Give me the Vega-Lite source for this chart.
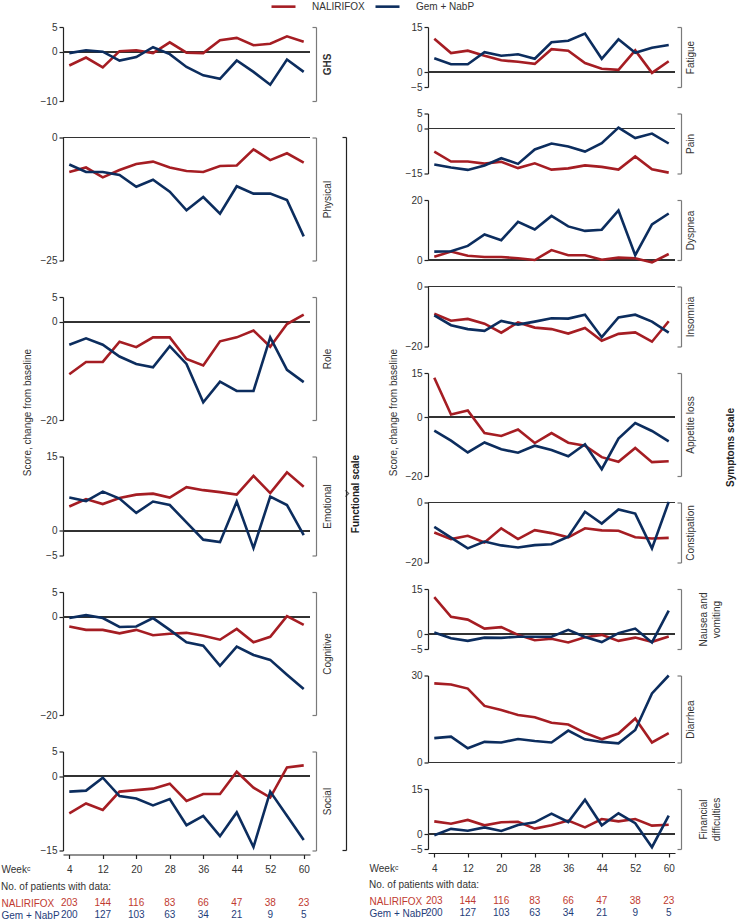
{
  "$schema": "https://vega.github.io/schema/vega-lite/v6.json",
  "background": "white",
  "padding": {"left": 1, "right": 1, "top": -7, "bottom": 0},
  "datasets": {
    "scores": [
      {"scale":"GHS","arm":"NALIRIFOX","week":4,"score":-2.8},{"scale":"GHS","arm":"NALIRIFOX","week":8,"score":-1.2},{"scale":"GHS","arm":"NALIRIFOX","week":12,"score":-3.2},{"scale":"GHS","arm":"NALIRIFOX","week":16,"score":0.1},{"scale":"GHS","arm":"NALIRIFOX","week":20,"score":0.3},{"scale":"GHS","arm":"NALIRIFOX","week":24,"score":-0.3},{"scale":"GHS","arm":"NALIRIFOX","week":28,"score":1.9},{"scale":"GHS","arm":"NALIRIFOX","week":32,"score":-0.2},{"scale":"GHS","arm":"NALIRIFOX","week":36,"score":-0.3},{"scale":"GHS","arm":"NALIRIFOX","week":40,"score":2.3},{"scale":"GHS","arm":"NALIRIFOX","week":44,"score":2.8},{"scale":"GHS","arm":"NALIRIFOX","week":48,"score":1.3},{"scale":"GHS","arm":"NALIRIFOX","week":52,"score":1.6},{"scale":"GHS","arm":"NALIRIFOX","week":56,"score":3.1},{"scale":"GHS","arm":"NALIRIFOX","week":60,"score":2.0},
      {"scale":"GHS","arm":"Gem + NabP","week":4,"score":-0.3},{"scale":"GHS","arm":"Gem + NabP","week":8,"score":0.3},{"scale":"GHS","arm":"Gem + NabP","week":12,"score":0},{"scale":"GHS","arm":"Gem + NabP","week":16,"score":-1.8},{"scale":"GHS","arm":"Gem + NabP","week":20,"score":-1.1},{"scale":"GHS","arm":"Gem + NabP","week":24,"score":0.9},{"scale":"GHS","arm":"Gem + NabP","week":28,"score":-0.5},{"scale":"GHS","arm":"Gem + NabP","week":32,"score":-3.1},{"scale":"GHS","arm":"Gem + NabP","week":36,"score":-4.8},{"scale":"GHS","arm":"Gem + NabP","week":40,"score":-5.5},{"scale":"GHS","arm":"Gem + NabP","week":44,"score":-1.8},{"scale":"GHS","arm":"Gem + NabP","week":48,"score":-4.1},{"scale":"GHS","arm":"Gem + NabP","week":52,"score":-6.7},{"scale":"GHS","arm":"Gem + NabP","week":56,"score":-1.6},{"scale":"GHS","arm":"Gem + NabP","week":60,"score":-4.1},
      {"scale":"Physical","arm":"NALIRIFOX","week":4,"score":-7.0},{"scale":"Physical","arm":"NALIRIFOX","week":8,"score":-6.1},{"scale":"Physical","arm":"NALIRIFOX","week":12,"score":-8.1},{"scale":"Physical","arm":"NALIRIFOX","week":16,"score":-6.6},{"scale":"Physical","arm":"NALIRIFOX","week":20,"score":-5.4},{"scale":"Physical","arm":"NALIRIFOX","week":24,"score":-4.9},{"scale":"Physical","arm":"NALIRIFOX","week":28,"score":-6.1},{"scale":"Physical","arm":"NALIRIFOX","week":32,"score":-6.8},{"scale":"Physical","arm":"NALIRIFOX","week":36,"score":-7.0},{"scale":"Physical","arm":"NALIRIFOX","week":40,"score":-5.8},{"scale":"Physical","arm":"NALIRIFOX","week":44,"score":-5.7},{"scale":"Physical","arm":"NALIRIFOX","week":48,"score":-2.4},{"scale":"Physical","arm":"NALIRIFOX","week":52,"score":-4.6},{"scale":"Physical","arm":"NALIRIFOX","week":56,"score":-3.2},{"scale":"Physical","arm":"NALIRIFOX","week":60,"score":-5.1},
      {"scale":"Physical","arm":"Gem + NabP","week":4,"score":-5.5},{"scale":"Physical","arm":"Gem + NabP","week":8,"score":-7.0},{"scale":"Physical","arm":"Gem + NabP","week":12,"score":-7.0},{"scale":"Physical","arm":"Gem + NabP","week":16,"score":-7.6},{"scale":"Physical","arm":"Gem + NabP","week":20,"score":-10.0},{"scale":"Physical","arm":"Gem + NabP","week":24,"score":-8.6},{"scale":"Physical","arm":"Gem + NabP","week":28,"score":-11.0},{"scale":"Physical","arm":"Gem + NabP","week":32,"score":-14.8},{"scale":"Physical","arm":"Gem + NabP","week":36,"score":-12.1},{"scale":"Physical","arm":"Gem + NabP","week":40,"score":-15.5},{"scale":"Physical","arm":"Gem + NabP","week":44,"score":-9.9},{"scale":"Physical","arm":"Gem + NabP","week":48,"score":-11.4},{"scale":"Physical","arm":"Gem + NabP","week":52,"score":-11.4},{"scale":"Physical","arm":"Gem + NabP","week":56,"score":-12.7},{"scale":"Physical","arm":"Gem + NabP","week":60,"score":-20.1},
      {"scale":"Role","arm":"NALIRIFOX","week":4,"score":-10.7},{"scale":"Role","arm":"NALIRIFOX","week":8,"score":-8.2},{"scale":"Role","arm":"NALIRIFOX","week":12,"score":-8.2},{"scale":"Role","arm":"NALIRIFOX","week":16,"score":-4.1},{"scale":"Role","arm":"NALIRIFOX","week":20,"score":-5.2},{"scale":"Role","arm":"NALIRIFOX","week":24,"score":-3.2},{"scale":"Role","arm":"NALIRIFOX","week":28,"score":-3.2},{"scale":"Role","arm":"NALIRIFOX","week":32,"score":-7.6},{"scale":"Role","arm":"NALIRIFOX","week":36,"score":-8.9},{"scale":"Role","arm":"NALIRIFOX","week":40,"score":-4.0},{"scale":"Role","arm":"NALIRIFOX","week":44,"score":-3.2},{"scale":"Role","arm":"NALIRIFOX","week":48,"score":-1.8},{"scale":"Role","arm":"NALIRIFOX","week":52,"score":-5.1},{"scale":"Role","arm":"NALIRIFOX","week":56,"score":-0.5},{"scale":"Role","arm":"NALIRIFOX","week":60,"score":1.4},
      {"scale":"Role","arm":"Gem + NabP","week":4,"score":-4.7},{"scale":"Role","arm":"Gem + NabP","week":8,"score":-3.4},{"scale":"Role","arm":"Gem + NabP","week":12,"score":-4.7},{"scale":"Role","arm":"Gem + NabP","week":16,"score":-7.1},{"scale":"Role","arm":"Gem + NabP","week":20,"score":-8.6},{"scale":"Role","arm":"Gem + NabP","week":24,"score":-9.3},{"scale":"Role","arm":"Gem + NabP","week":28,"score":-5.0},{"scale":"Role","arm":"Gem + NabP","week":32,"score":-8.6},{"scale":"Role","arm":"Gem + NabP","week":36,"score":-16.4},{"scale":"Role","arm":"Gem + NabP","week":40,"score":-12.2},{"scale":"Role","arm":"Gem + NabP","week":44,"score":-14.1},{"scale":"Role","arm":"Gem + NabP","week":48,"score":-14.1},{"scale":"Role","arm":"Gem + NabP","week":52,"score":-3.2},{"scale":"Role","arm":"Gem + NabP","week":56,"score":-9.8},{"scale":"Role","arm":"Gem + NabP","week":60,"score":-12.3},
      {"scale":"Emotional","arm":"NALIRIFOX","week":4,"score":4.9},{"scale":"Emotional","arm":"NALIRIFOX","week":8,"score":6.4},{"scale":"Emotional","arm":"NALIRIFOX","week":12,"score":5.4},{"scale":"Emotional","arm":"NALIRIFOX","week":16,"score":6.6},{"scale":"Emotional","arm":"NALIRIFOX","week":20,"score":7.3},{"scale":"Emotional","arm":"NALIRIFOX","week":24,"score":7.5},{"scale":"Emotional","arm":"NALIRIFOX","week":28,"score":6.7},{"scale":"Emotional","arm":"NALIRIFOX","week":32,"score":8.8},{"scale":"Emotional","arm":"NALIRIFOX","week":36,"score":8.2},{"scale":"Emotional","arm":"NALIRIFOX","week":40,"score":7.8},{"scale":"Emotional","arm":"NALIRIFOX","week":44,"score":7.3},{"scale":"Emotional","arm":"NALIRIFOX","week":48,"score":11.1},{"scale":"Emotional","arm":"NALIRIFOX","week":52,"score":7.6},{"scale":"Emotional","arm":"NALIRIFOX","week":56,"score":11.8},{"scale":"Emotional","arm":"NALIRIFOX","week":60,"score":8.9},
      {"scale":"Emotional","arm":"Gem + NabP","week":4,"score":6.7},{"scale":"Emotional","arm":"Gem + NabP","week":8,"score":6.0},{"scale":"Emotional","arm":"Gem + NabP","week":12,"score":7.9},{"scale":"Emotional","arm":"Gem + NabP","week":16,"score":6.5},{"scale":"Emotional","arm":"Gem + NabP","week":20,"score":3.6},{"scale":"Emotional","arm":"Gem + NabP","week":24,"score":5.9},{"scale":"Emotional","arm":"Gem + NabP","week":28,"score":5.2},{"scale":"Emotional","arm":"Gem + NabP","week":32,"score":1.7},{"scale":"Emotional","arm":"Gem + NabP","week":36,"score":-1.8},{"scale":"Emotional","arm":"Gem + NabP","week":40,"score":-2.3},{"scale":"Emotional","arm":"Gem + NabP","week":44,"score":5.9},{"scale":"Emotional","arm":"Gem + NabP","week":48,"score":-3.5},{"scale":"Emotional","arm":"Gem + NabP","week":52,"score":6.9},{"scale":"Emotional","arm":"Gem + NabP","week":56,"score":5.2},{"scale":"Emotional","arm":"Gem + NabP","week":60,"score":-0.9},
      {"scale":"Cognitive","arm":"NALIRIFOX","week":4,"score":-2.0},{"scale":"Cognitive","arm":"NALIRIFOX","week":8,"score":-2.7},{"scale":"Cognitive","arm":"NALIRIFOX","week":12,"score":-2.7},{"scale":"Cognitive","arm":"NALIRIFOX","week":16,"score":-3.4},{"scale":"Cognitive","arm":"NALIRIFOX","week":20,"score":-2.7},{"scale":"Cognitive","arm":"NALIRIFOX","week":24,"score":-3.8},{"scale":"Cognitive","arm":"NALIRIFOX","week":28,"score":-3.5},{"scale":"Cognitive","arm":"NALIRIFOX","week":32,"score":-3.3},{"scale":"Cognitive","arm":"NALIRIFOX","week":36,"score":-3.9},{"scale":"Cognitive","arm":"NALIRIFOX","week":40,"score":-4.7},{"scale":"Cognitive","arm":"NALIRIFOX","week":44,"score":-2.5},{"scale":"Cognitive","arm":"NALIRIFOX","week":48,"score":-5.2},{"scale":"Cognitive","arm":"NALIRIFOX","week":52,"score":-4.1},{"scale":"Cognitive","arm":"NALIRIFOX","week":56,"score":0.1},{"scale":"Cognitive","arm":"NALIRIFOX","week":60,"score":-1.7},
      {"scale":"Cognitive","arm":"Gem + NabP","week":4,"score":-0.3},{"scale":"Cognitive","arm":"Gem + NabP","week":8,"score":0.3},{"scale":"Cognitive","arm":"Gem + NabP","week":12,"score":-0.3},{"scale":"Cognitive","arm":"Gem + NabP","week":16,"score":-2.1},{"scale":"Cognitive","arm":"Gem + NabP","week":20,"score":-2.0},{"scale":"Cognitive","arm":"Gem + NabP","week":24,"score":-0.3},{"scale":"Cognitive","arm":"Gem + NabP","week":28,"score":-2.7},{"scale":"Cognitive","arm":"Gem + NabP","week":32,"score":-5.2},{"scale":"Cognitive","arm":"Gem + NabP","week":36,"score":-5.9},{"scale":"Cognitive","arm":"Gem + NabP","week":40,"score":-10.0},{"scale":"Cognitive","arm":"Gem + NabP","week":44,"score":-6.1},{"scale":"Cognitive","arm":"Gem + NabP","week":48,"score":-7.8},{"scale":"Cognitive","arm":"Gem + NabP","week":52,"score":-8.8},{"scale":"Cognitive","arm":"Gem + NabP","week":56,"score":-11.8},{"scale":"Cognitive","arm":"Gem + NabP","week":60,"score":-14.7},
      {"scale":"Social","arm":"NALIRIFOX","week":4,"score":-7.5},{"scale":"Social","arm":"NALIRIFOX","week":8,"score":-5.5},{"scale":"Social","arm":"NALIRIFOX","week":12,"score":-6.8},{"scale":"Social","arm":"NALIRIFOX","week":16,"score":-3.1},{"scale":"Social","arm":"NALIRIFOX","week":20,"score":-2.8},{"scale":"Social","arm":"NALIRIFOX","week":24,"score":-2.5},{"scale":"Social","arm":"NALIRIFOX","week":28,"score":-1.5},{"scale":"Social","arm":"NALIRIFOX","week":32,"score":-5.0},{"scale":"Social","arm":"NALIRIFOX","week":36,"score":-3.6},{"scale":"Social","arm":"NALIRIFOX","week":40,"score":-3.6},{"scale":"Social","arm":"NALIRIFOX","week":44,"score":0.9},{"scale":"Social","arm":"NALIRIFOX","week":48,"score":-2.3},{"scale":"Social","arm":"NALIRIFOX","week":52,"score":-4.3},{"scale":"Social","arm":"NALIRIFOX","week":56,"score":1.8},{"scale":"Social","arm":"NALIRIFOX","week":60,"score":2.2},
      {"scale":"Social","arm":"Gem + NabP","week":4,"score":-3.1},{"scale":"Social","arm":"Gem + NabP","week":8,"score":-2.9},{"scale":"Social","arm":"Gem + NabP","week":12,"score":-0.3},{"scale":"Social","arm":"Gem + NabP","week":16,"score":-4.0},{"scale":"Social","arm":"Gem + NabP","week":20,"score":-4.5},{"scale":"Social","arm":"Gem + NabP","week":24,"score":-5.9},{"scale":"Social","arm":"Gem + NabP","week":28,"score":-4.6},{"scale":"Social","arm":"Gem + NabP","week":32,"score":-9.9},{"scale":"Social","arm":"Gem + NabP","week":36,"score":-8.0},{"scale":"Social","arm":"Gem + NabP","week":40,"score":-12.1},{"scale":"Social","arm":"Gem + NabP","week":44,"score":-7.3},{"scale":"Social","arm":"Gem + NabP","week":48,"score":-14.3},{"scale":"Social","arm":"Gem + NabP","week":52,"score":-3.1},{"scale":"Social","arm":"Gem + NabP","week":56,"score":-8.0},{"scale":"Social","arm":"Gem + NabP","week":60,"score":-12.9},
      {"scale":"Fatigue","arm":"NALIRIFOX","week":4,"score":11.1},{"scale":"Fatigue","arm":"NALIRIFOX","week":8,"score":6.3},{"scale":"Fatigue","arm":"NALIRIFOX","week":12,"score":7.1},{"scale":"Fatigue","arm":"NALIRIFOX","week":16,"score":5.4},{"scale":"Fatigue","arm":"NALIRIFOX","week":20,"score":3.9},{"scale":"Fatigue","arm":"NALIRIFOX","week":24,"score":3.4},{"scale":"Fatigue","arm":"NALIRIFOX","week":28,"score":2.7},{"scale":"Fatigue","arm":"NALIRIFOX","week":32,"score":7.6},{"scale":"Fatigue","arm":"NALIRIFOX","week":36,"score":7.1},{"scale":"Fatigue","arm":"NALIRIFOX","week":40,"score":3.0},{"scale":"Fatigue","arm":"NALIRIFOX","week":44,"score":1.1},{"scale":"Fatigue","arm":"NALIRIFOX","week":48,"score":0.7},{"scale":"Fatigue","arm":"NALIRIFOX","week":52,"score":7.2},{"scale":"Fatigue","arm":"NALIRIFOX","week":56,"score":-0.3},{"scale":"Fatigue","arm":"NALIRIFOX","week":60,"score":3.6},
      {"scale":"Fatigue","arm":"Gem + NabP","week":4,"score":4.6},{"scale":"Fatigue","arm":"Gem + NabP","week":8,"score":2.6},{"scale":"Fatigue","arm":"Gem + NabP","week":12,"score":2.6},{"scale":"Fatigue","arm":"Gem + NabP","week":16,"score":6.6},{"scale":"Fatigue","arm":"Gem + NabP","week":20,"score":5.4},{"scale":"Fatigue","arm":"Gem + NabP","week":24,"score":5.9},{"scale":"Fatigue","arm":"Gem + NabP","week":28,"score":4.4},{"scale":"Fatigue","arm":"Gem + NabP","week":32,"score":9.9},{"scale":"Fatigue","arm":"Gem + NabP","week":36,"score":10.4},{"scale":"Fatigue","arm":"Gem + NabP","week":40,"score":12.8},{"scale":"Fatigue","arm":"Gem + NabP","week":44,"score":4.4},{"scale":"Fatigue","arm":"Gem + NabP","week":48,"score":10.9},{"scale":"Fatigue","arm":"Gem + NabP","week":52,"score":6.4},{"scale":"Fatigue","arm":"Gem + NabP","week":56,"score":8.1},{"scale":"Fatigue","arm":"Gem + NabP","week":60,"score":9.0},
      {"scale":"Pain","arm":"NALIRIFOX","week":4,"score":-7.7},{"scale":"Pain","arm":"NALIRIFOX","week":8,"score":-11.0},{"scale":"Pain","arm":"NALIRIFOX","week":12,"score":-11.0},{"scale":"Pain","arm":"NALIRIFOX","week":16,"score":-11.7},{"scale":"Pain","arm":"NALIRIFOX","week":20,"score":-11.1},{"scale":"Pain","arm":"NALIRIFOX","week":24,"score":-13.2},{"scale":"Pain","arm":"NALIRIFOX","week":28,"score":-11.6},{"scale":"Pain","arm":"NALIRIFOX","week":32,"score":-13.7},{"scale":"Pain","arm":"NALIRIFOX","week":36,"score":-13.3},{"scale":"Pain","arm":"NALIRIFOX","week":40,"score":-12.3},{"scale":"Pain","arm":"NALIRIFOX","week":44,"score":-12.8},{"scale":"Pain","arm":"NALIRIFOX","week":48,"score":-13.7},{"scale":"Pain","arm":"NALIRIFOX","week":52,"score":-9.3},{"scale":"Pain","arm":"NALIRIFOX","week":56,"score":-13.6},{"scale":"Pain","arm":"NALIRIFOX","week":60,"score":-14.7},
      {"scale":"Pain","arm":"Gem + NabP","week":4,"score":-12.0},{"scale":"Pain","arm":"Gem + NabP","week":8,"score":-13.0},{"scale":"Pain","arm":"Gem + NabP","week":12,"score":-13.8},{"scale":"Pain","arm":"Gem + NabP","week":16,"score":-12.3},{"scale":"Pain","arm":"Gem + NabP","week":20,"score":-9.9},{"scale":"Pain","arm":"Gem + NabP","week":24,"score":-11.8},{"scale":"Pain","arm":"Gem + NabP","week":28,"score":-7.0},{"scale":"Pain","arm":"Gem + NabP","week":32,"score":-5.0},{"scale":"Pain","arm":"Gem + NabP","week":36,"score":-6.0},{"scale":"Pain","arm":"Gem + NabP","week":40,"score":-7.7},{"scale":"Pain","arm":"Gem + NabP","week":44,"score":-4.9},{"scale":"Pain","arm":"Gem + NabP","week":48,"score":0.3},{"scale":"Pain","arm":"Gem + NabP","week":52,"score":-3.2},{"scale":"Pain","arm":"Gem + NabP","week":56,"score":-1.7},{"scale":"Pain","arm":"Gem + NabP","week":60,"score":-5.0},
      {"scale":"Dyspnea","arm":"NALIRIFOX","week":4,"score":1.1},{"scale":"Dyspnea","arm":"NALIRIFOX","week":8,"score":2.8},{"scale":"Dyspnea","arm":"NALIRIFOX","week":12,"score":1.4},{"scale":"Dyspnea","arm":"NALIRIFOX","week":16,"score":1.0},{"scale":"Dyspnea","arm":"NALIRIFOX","week":20,"score":1.0},{"scale":"Dyspnea","arm":"NALIRIFOX","week":24,"score":0.6},{"scale":"Dyspnea","arm":"NALIRIFOX","week":28,"score":0},{"scale":"Dyspnea","arm":"NALIRIFOX","week":32,"score":3.3},{"scale":"Dyspnea","arm":"NALIRIFOX","week":36,"score":1.6},{"scale":"Dyspnea","arm":"NALIRIFOX","week":40,"score":1.6},{"scale":"Dyspnea","arm":"NALIRIFOX","week":44,"score":0.1},{"scale":"Dyspnea","arm":"NALIRIFOX","week":48,"score":0.8},{"scale":"Dyspnea","arm":"NALIRIFOX","week":52,"score":0.6},{"scale":"Dyspnea","arm":"NALIRIFOX","week":56,"score":-0.8},{"scale":"Dyspnea","arm":"NALIRIFOX","week":60,"score":2.0},
      {"scale":"Dyspnea","arm":"Gem + NabP","week":4,"score":2.8},{"scale":"Dyspnea","arm":"Gem + NabP","week":8,"score":2.9},{"scale":"Dyspnea","arm":"Gem + NabP","week":12,"score":4.7},{"scale":"Dyspnea","arm":"Gem + NabP","week":16,"score":8.5},{"scale":"Dyspnea","arm":"Gem + NabP","week":20,"score":6.6},{"scale":"Dyspnea","arm":"Gem + NabP","week":24,"score":12.7},{"scale":"Dyspnea","arm":"Gem + NabP","week":28,"score":10.2},{"scale":"Dyspnea","arm":"Gem + NabP","week":32,"score":14.7},{"scale":"Dyspnea","arm":"Gem + NabP","week":36,"score":11.2},{"scale":"Dyspnea","arm":"Gem + NabP","week":40,"score":9.7},{"scale":"Dyspnea","arm":"Gem + NabP","week":44,"score":10.1},{"scale":"Dyspnea","arm":"Gem + NabP","week":48,"score":16.5},{"scale":"Dyspnea","arm":"Gem + NabP","week":52,"score":1.6},{"scale":"Dyspnea","arm":"Gem + NabP","week":56,"score":11.9},{"scale":"Dyspnea","arm":"Gem + NabP","week":60,"score":15.5},
      {"scale":"Insomnia","arm":"NALIRIFOX","week":4,"score":-9.1},{"scale":"Insomnia","arm":"NALIRIFOX","week":8,"score":-11.4},{"scale":"Insomnia","arm":"NALIRIFOX","week":12,"score":-10.8},{"scale":"Insomnia","arm":"NALIRIFOX","week":16,"score":-12.4},{"scale":"Insomnia","arm":"NALIRIFOX","week":20,"score":-15.4},{"scale":"Insomnia","arm":"NALIRIFOX","week":24,"score":-12.0},{"scale":"Insomnia","arm":"NALIRIFOX","week":28,"score":-13.7},{"scale":"Insomnia","arm":"NALIRIFOX","week":32,"score":-14.2},{"scale":"Insomnia","arm":"NALIRIFOX","week":36,"score":-15.7},{"scale":"Insomnia","arm":"NALIRIFOX","week":40,"score":-13.8},{"scale":"Insomnia","arm":"NALIRIFOX","week":44,"score":-18.1},{"scale":"Insomnia","arm":"NALIRIFOX","week":48,"score":-15.8},{"scale":"Insomnia","arm":"NALIRIFOX","week":52,"score":-15.3},{"scale":"Insomnia","arm":"NALIRIFOX","week":56,"score":-18.4},{"scale":"Insomnia","arm":"NALIRIFOX","week":60,"score":-11.6},
      {"scale":"Insomnia","arm":"Gem + NabP","week":4,"score":-9.6},{"scale":"Insomnia","arm":"Gem + NabP","week":8,"score":-12.9},{"scale":"Insomnia","arm":"Gem + NabP","week":12,"score":-14.2},{"scale":"Insomnia","arm":"Gem + NabP","week":16,"score":-14.8},{"scale":"Insomnia","arm":"Gem + NabP","week":20,"score":-11.5},{"scale":"Insomnia","arm":"Gem + NabP","week":24,"score":-12.7},{"scale":"Insomnia","arm":"Gem + NabP","week":28,"score":-11.7},{"scale":"Insomnia","arm":"Gem + NabP","week":32,"score":-10.6},{"scale":"Insomnia","arm":"Gem + NabP","week":36,"score":-10.7},{"scale":"Insomnia","arm":"Gem + NabP","week":40,"score":-9.4},{"scale":"Insomnia","arm":"Gem + NabP","week":44,"score":-16.9},{"scale":"Insomnia","arm":"Gem + NabP","week":48,"score":-10.3},{"scale":"Insomnia","arm":"Gem + NabP","week":52,"score":-9.4},{"scale":"Insomnia","arm":"Gem + NabP","week":56,"score":-11.7},{"scale":"Insomnia","arm":"Gem + NabP","week":60,"score":-15.4},
      {"scale":"Appetite loss","arm":"NALIRIFOX","week":4,"score":13.4},{"scale":"Appetite loss","arm":"NALIRIFOX","week":8,"score":0.9},{"scale":"Appetite loss","arm":"NALIRIFOX","week":12,"score":2.3},{"scale":"Appetite loss","arm":"NALIRIFOX","week":16,"score":-5.4},{"scale":"Appetite loss","arm":"NALIRIFOX","week":20,"score":-6.4},{"scale":"Appetite loss","arm":"NALIRIFOX","week":24,"score":-4.2},{"scale":"Appetite loss","arm":"NALIRIFOX","week":28,"score":-8.8},{"scale":"Appetite loss","arm":"NALIRIFOX","week":32,"score":-5.4},{"scale":"Appetite loss","arm":"NALIRIFOX","week":36,"score":-8.7},{"scale":"Appetite loss","arm":"NALIRIFOX","week":40,"score":-9.7},{"scale":"Appetite loss","arm":"NALIRIFOX","week":44,"score":-13.6},{"scale":"Appetite loss","arm":"NALIRIFOX","week":48,"score":-15.2},{"scale":"Appetite loss","arm":"NALIRIFOX","week":52,"score":-10.5},{"scale":"Appetite loss","arm":"NALIRIFOX","week":56,"score":-15.3},{"scale":"Appetite loss","arm":"NALIRIFOX","week":60,"score":-15.0},
      {"scale":"Appetite loss","arm":"Gem + NabP","week":4,"score":-4.6},{"scale":"Appetite loss","arm":"Gem + NabP","week":8,"score":-8.0},{"scale":"Appetite loss","arm":"Gem + NabP","week":12,"score":-12.0},{"scale":"Appetite loss","arm":"Gem + NabP","week":16,"score":-8.6},{"scale":"Appetite loss","arm":"Gem + NabP","week":20,"score":-10.9},{"scale":"Appetite loss","arm":"Gem + NabP","week":24,"score":-12.1},{"scale":"Appetite loss","arm":"Gem + NabP","week":28,"score":-9.7},{"scale":"Appetite loss","arm":"Gem + NabP","week":32,"score":-11.2},{"scale":"Appetite loss","arm":"Gem + NabP","week":36,"score":-13.3},{"scale":"Appetite loss","arm":"Gem + NabP","week":40,"score":-9.2},{"scale":"Appetite loss","arm":"Gem + NabP","week":44,"score":-17.7},{"scale":"Appetite loss","arm":"Gem + NabP","week":48,"score":-7.3},{"scale":"Appetite loss","arm":"Gem + NabP","week":52,"score":-2.0},{"scale":"Appetite loss","arm":"Gem + NabP","week":56,"score":-4.7},{"scale":"Appetite loss","arm":"Gem + NabP","week":60,"score":-8.2},
      {"scale":"Constipation","arm":"NALIRIFOX","week":4,"score":-10.0},{"scale":"Constipation","arm":"NALIRIFOX","week":8,"score":-12.2},{"scale":"Constipation","arm":"NALIRIFOX","week":12,"score":-11.1},{"scale":"Constipation","arm":"NALIRIFOX","week":16,"score":-13.3},{"scale":"Constipation","arm":"NALIRIFOX","week":20,"score":-8.6},{"scale":"Constipation","arm":"NALIRIFOX","week":24,"score":-12.2},{"scale":"Constipation","arm":"NALIRIFOX","week":28,"score":-9.2},{"scale":"Constipation","arm":"NALIRIFOX","week":32,"score":-10.2},{"scale":"Constipation","arm":"NALIRIFOX","week":36,"score":-11.6},{"scale":"Constipation","arm":"NALIRIFOX","week":40,"score":-8.6},{"scale":"Constipation","arm":"NALIRIFOX","week":44,"score":-9.3},{"scale":"Constipation","arm":"NALIRIFOX","week":48,"score":-9.4},{"scale":"Constipation","arm":"NALIRIFOX","week":52,"score":-11.6},{"scale":"Constipation","arm":"NALIRIFOX","week":56,"score":-12.0},{"scale":"Constipation","arm":"NALIRIFOX","week":60,"score":-11.8},
      {"scale":"Constipation","arm":"Gem + NabP","week":4,"score":-8.1},{"scale":"Constipation","arm":"Gem + NabP","week":8,"score":-11.7},{"scale":"Constipation","arm":"Gem + NabP","week":12,"score":-15.3},{"scale":"Constipation","arm":"Gem + NabP","week":16,"score":-13.0},{"scale":"Constipation","arm":"Gem + NabP","week":20,"score":-14.3},{"scale":"Constipation","arm":"Gem + NabP","week":24,"score":-15.0},{"scale":"Constipation","arm":"Gem + NabP","week":28,"score":-14.2},{"scale":"Constipation","arm":"Gem + NabP","week":32,"score":-13.9},{"scale":"Constipation","arm":"Gem + NabP","week":36,"score":-11.4},{"scale":"Constipation","arm":"Gem + NabP","week":40,"score":-3.1},{"scale":"Constipation","arm":"Gem + NabP","week":44,"score":-7.0},{"scale":"Constipation","arm":"Gem + NabP","week":48,"score":-2.3},{"scale":"Constipation","arm":"Gem + NabP","week":52,"score":-3.7},{"scale":"Constipation","arm":"Gem + NabP","week":56,"score":-15.3},{"scale":"Constipation","arm":"Gem + NabP","week":60,"score":0.2},
      {"scale":"Nausea and vomiting","arm":"NALIRIFOX","week":4,"score":12.3},{"scale":"Nausea and vomiting","arm":"NALIRIFOX","week":8,"score":5.7},{"scale":"Nausea and vomiting","arm":"NALIRIFOX","week":12,"score":4.8},{"scale":"Nausea and vomiting","arm":"NALIRIFOX","week":16,"score":1.8},{"scale":"Nausea and vomiting","arm":"NALIRIFOX","week":20,"score":2.3},{"scale":"Nausea and vomiting","arm":"NALIRIFOX","week":24,"score":-0.3},{"scale":"Nausea and vomiting","arm":"NALIRIFOX","week":28,"score":-2.1},{"scale":"Nausea and vomiting","arm":"NALIRIFOX","week":32,"score":-1.6},{"scale":"Nausea and vomiting","arm":"NALIRIFOX","week":36,"score":-2.8},{"scale":"Nausea and vomiting","arm":"NALIRIFOX","week":40,"score":-1.1},{"scale":"Nausea and vomiting","arm":"NALIRIFOX","week":44,"score":-0.3},{"scale":"Nausea and vomiting","arm":"NALIRIFOX","week":48,"score":-2.3},{"scale":"Nausea and vomiting","arm":"NALIRIFOX","week":52,"score":-1.2},{"scale":"Nausea and vomiting","arm":"NALIRIFOX","week":56,"score":-2.6},{"scale":"Nausea and vomiting","arm":"NALIRIFOX","week":60,"score":-0.8},
      {"scale":"Nausea and vomiting","arm":"Gem + NabP","week":4,"score":0.5},{"scale":"Nausea and vomiting","arm":"Gem + NabP","week":8,"score":-1.4},{"scale":"Nausea and vomiting","arm":"Gem + NabP","week":12,"score":-2.3},{"scale":"Nausea and vomiting","arm":"Gem + NabP","week":16,"score":-1.2},{"scale":"Nausea and vomiting","arm":"Gem + NabP","week":20,"score":-1.3},{"scale":"Nausea and vomiting","arm":"Gem + NabP","week":24,"score":-0.9},{"scale":"Nausea and vomiting","arm":"Gem + NabP","week":28,"score":-0.9},{"scale":"Nausea and vomiting","arm":"Gem + NabP","week":32,"score":-0.9},{"scale":"Nausea and vomiting","arm":"Gem + NabP","week":36,"score":1.4},{"scale":"Nausea and vomiting","arm":"Gem + NabP","week":40,"score":-1.0},{"scale":"Nausea and vomiting","arm":"Gem + NabP","week":44,"score":-2.7},{"scale":"Nausea and vomiting","arm":"Gem + NabP","week":48,"score":0.3},{"scale":"Nausea and vomiting","arm":"Gem + NabP","week":52,"score":1.8},{"scale":"Nausea and vomiting","arm":"Gem + NabP","week":56,"score":-2.8},{"scale":"Nausea and vomiting","arm":"Gem + NabP","week":60,"score":7.8},
      {"scale":"Diarrhea","arm":"NALIRIFOX","week":4,"score":27.3},{"scale":"Diarrhea","arm":"NALIRIFOX","week":8,"score":26.9},{"scale":"Diarrhea","arm":"NALIRIFOX","week":12,"score":25.5},{"scale":"Diarrhea","arm":"NALIRIFOX","week":16,"score":19.5},{"scale":"Diarrhea","arm":"NALIRIFOX","week":20,"score":18.1},{"scale":"Diarrhea","arm":"NALIRIFOX","week":24,"score":16.4},{"scale":"Diarrhea","arm":"NALIRIFOX","week":28,"score":15.6},{"scale":"Diarrhea","arm":"NALIRIFOX","week":32,"score":13.7},{"scale":"Diarrhea","arm":"NALIRIFOX","week":36,"score":13.1},{"scale":"Diarrhea","arm":"NALIRIFOX","week":40,"score":10.2},{"scale":"Diarrhea","arm":"NALIRIFOX","week":44,"score":8.0},{"scale":"Diarrhea","arm":"NALIRIFOX","week":48,"score":10.0},{"scale":"Diarrhea","arm":"NALIRIFOX","week":52,"score":15.2},{"scale":"Diarrhea","arm":"NALIRIFOX","week":56,"score":6.9},{"scale":"Diarrhea","arm":"NALIRIFOX","week":60,"score":10.1},
      {"scale":"Diarrhea","arm":"Gem + NabP","week":4,"score":8.4},{"scale":"Diarrhea","arm":"Gem + NabP","week":8,"score":8.9},{"scale":"Diarrhea","arm":"Gem + NabP","week":12,"score":4.9},{"scale":"Diarrhea","arm":"Gem + NabP","week":16,"score":7.1},{"scale":"Diarrhea","arm":"Gem + NabP","week":20,"score":6.9},{"scale":"Diarrhea","arm":"Gem + NabP","week":24,"score":8.1},{"scale":"Diarrhea","arm":"Gem + NabP","week":28,"score":7.4},{"scale":"Diarrhea","arm":"Gem + NabP","week":32,"score":6.9},{"scale":"Diarrhea","arm":"Gem + NabP","week":36,"score":11.0},{"scale":"Diarrhea","arm":"Gem + NabP","week":40,"score":8.0},{"scale":"Diarrhea","arm":"Gem + NabP","week":44,"score":7.1},{"scale":"Diarrhea","arm":"Gem + NabP","week":48,"score":6.6},{"scale":"Diarrhea","arm":"Gem + NabP","week":52,"score":11.2},{"scale":"Diarrhea","arm":"Gem + NabP","week":56,"score":23.8},{"scale":"Diarrhea","arm":"Gem + NabP","week":60,"score":30.0},
      {"scale":"Financial difficulties","arm":"NALIRIFOX","week":4,"score":4.2},{"scale":"Financial difficulties","arm":"NALIRIFOX","week":8,"score":3.4},{"scale":"Financial difficulties","arm":"NALIRIFOX","week":12,"score":4.7},{"scale":"Financial difficulties","arm":"NALIRIFOX","week":16,"score":2.9},{"scale":"Financial difficulties","arm":"NALIRIFOX","week":20,"score":3.9},{"scale":"Financial difficulties","arm":"NALIRIFOX","week":24,"score":4.1},{"scale":"Financial difficulties","arm":"NALIRIFOX","week":28,"score":1.8},{"scale":"Financial difficulties","arm":"NALIRIFOX","week":32,"score":2.9},{"scale":"Financial difficulties","arm":"NALIRIFOX","week":36,"score":4.5},{"scale":"Financial difficulties","arm":"NALIRIFOX","week":40,"score":2.2},{"scale":"Financial difficulties","arm":"NALIRIFOX","week":44,"score":5.0},{"scale":"Financial difficulties","arm":"NALIRIFOX","week":48,"score":4.2},{"scale":"Financial difficulties","arm":"NALIRIFOX","week":52,"score":5.0},{"scale":"Financial difficulties","arm":"NALIRIFOX","week":56,"score":2.8},{"scale":"Financial difficulties","arm":"NALIRIFOX","week":60,"score":3.1},
      {"scale":"Financial difficulties","arm":"Gem + NabP","week":4,"score":-0.4},{"scale":"Financial difficulties","arm":"Gem + NabP","week":8,"score":1.7},{"scale":"Financial difficulties","arm":"Gem + NabP","week":12,"score":1.1},{"scale":"Financial difficulties","arm":"Gem + NabP","week":16,"score":2.2},{"scale":"Financial difficulties","arm":"Gem + NabP","week":20,"score":1.0},{"scale":"Financial difficulties","arm":"Gem + NabP","week":24,"score":3.0},{"scale":"Financial difficulties","arm":"Gem + NabP","week":28,"score":3.9},{"scale":"Financial difficulties","arm":"Gem + NabP","week":32,"score":6.8},{"scale":"Financial difficulties","arm":"Gem + NabP","week":36,"score":4.0},{"scale":"Financial difficulties","arm":"Gem + NabP","week":40,"score":11.4},{"scale":"Financial difficulties","arm":"Gem + NabP","week":44,"score":2.9},{"scale":"Financial difficulties","arm":"Gem + NabP","week":48,"score":6.9},{"scale":"Financial difficulties","arm":"Gem + NabP","week":52,"score":3.6},{"scale":"Financial difficulties","arm":"Gem + NabP","week":56,"score":-4.4},{"scale":"Financial difficulties","arm":"Gem + NabP","week":60,"score":6.1}
    ],
    "counts": [
      {"arm":"NALIRIFOX","week":4,"n":203},{"arm":"NALIRIFOX","week":12,"n":144},{"arm":"NALIRIFOX","week":20,"n":116},{"arm":"NALIRIFOX","week":28,"n":83},{"arm":"NALIRIFOX","week":36,"n":66},{"arm":"NALIRIFOX","week":44,"n":47},{"arm":"NALIRIFOX","week":52,"n":38},{"arm":"NALIRIFOX","week":60,"n":23},
      {"arm":"Gem + NabP","week":4,"n":200},{"arm":"Gem + NabP","week":12,"n":127},{"arm":"Gem + NabP","week":20,"n":103},{"arm":"Gem + NabP","week":28,"n":63},{"arm":"Gem + NabP","week":36,"n":34},{"arm":"Gem + NabP","week":44,"n":21},{"arm":"Gem + NabP","week":52,"n":9},{"arm":"Gem + NabP","week":60,"n":5}
    ]
  },
  "config": {
    "font": "Liberation Sans",
    "view": {"stroke": null},
    "axis": {"grid": false, "labelFontSize": 10, "labelColor": "#333333", "titleFontSize": 10, "titleColor": "#333333", "titleFontWeight": "normal", "domainColor": "#222222", "tickColor": "#222222", "domainWidth": 1.2, "tickWidth": 1.2},
    "axisLeft": {"grid": true, "gridColor": "#cccccc", "gridWidth": 1.2, "tickSize": 4, "labelPadding": 2},
    "axisRight": {"labels": false, "tickSize": -4, "offset": 6, "domainColor": "#7a7a7a", "tickColor": "#7a7a7a", "titleAngle": 270, "titleBaseline": "top", "titlePadding": 6, "titleLineHeight": 13},
    "axisBottom": {"tickSize": 4, "labelPadding": 6},
    "line": {"strokeWidth": 2.6},
    "rule": {"color": "#333333", "strokeWidth": 1.2},
    "title": {"font": "Liberation Sans"}
  },
  "spacing": 8,
  "hconcat": [
    {
      "spacing": 7,
      "vconcat": [
        {
          "data": {"name": "scores"},
          "spacing": 36.5,
          "bounds": "flush",
          "vconcat": [
            {"width": 247, "height": 74, "transform": [{"filter": "datum.scale === 'GHS'"}], "resolve": {"axis": {"y": "independent"}}, "layer": [
              {"mark": "rule", "encoding": {"y": {"datum": 0, "type": "quantitative", "scale": {"domain": [-10, 5]}, "axis": {"orient": "right", "values": [5, -10], "title": "GHS", "titleFontWeight": "bold"}}}},
              {"mark": "line", "encoding": {
                "x": {"field": "week", "type": "quantitative", "scale": {"domain": [2.5, 61.5], "nice": false}, "axis": null},
                "y": {"field": "score", "type": "quantitative", "scale": {"domain": [-10, 5]}, "axis": {"orient": "left", "values": [5, 0, -10], "title": null}},
                "color": {"field": "arm", "type": "nominal", "scale": {"domain": ["NALIRIFOX", "Gem + NabP"], "range": ["#a51d23", "#0c2d5e"]},
                  "legend": {"title": null, "orient": "none", "legendX": 207, "legendY": -34, "direction": "horizontal", "symbolType": "stroke", "symbolSize": 576, "symbolStrokeWidth": 3, "labelFontSize": 10, "labelOffset": 15, "columnPadding": 5, "labelColor": "#333333"}}}}
            ]},
            {"width": 247, "height": 123, "transform": [{"filter": "datum.scale === 'Physical'"}], "resolve": {"axis": {"y": "independent"}}, "layer": [
              {"mark": "rule", "encoding": {"y": {"datum": 0, "type": "quantitative", "scale": {"domain": [-25, 0]}, "axis": {"orient": "right", "values": [0, -25], "title": "Physical"}}}},
              {"mark": "line", "encoding": {
                "x": {"field": "week", "type": "quantitative", "scale": {"domain": [2.5, 61.5], "nice": false}, "axis": null},
                "y": {"field": "score", "type": "quantitative", "scale": {"domain": [-25, 0]}, "axis": {"orient": "left", "values": [0, -25], "title": null}},
                "color": {"field": "arm", "type": "nominal", "scale": {"domain": ["NALIRIFOX", "Gem + NabP"], "range": ["#a51d23", "#0c2d5e"]}, "legend": null}}}
            ]},
            {"width": 247, "height": 123, "transform": [{"filter": "datum.scale === 'Role'"}], "resolve": {"axis": {"y": "independent"}}, "layer": [
              {"mark": "rule", "encoding": {"y": {"datum": 0, "type": "quantitative", "scale": {"domain": [-20, 5]}, "axis": {"orient": "right", "values": [5, -20], "title": "Role"}}}},
              {"mark": "line", "encoding": {
                "x": {"field": "week", "type": "quantitative", "scale": {"domain": [2.5, 61.5], "nice": false}, "axis": null},
                "y": {"field": "score", "type": "quantitative", "scale": {"domain": [-20, 5]}, "axis": {"orient": "left", "values": [5, 0, -20], "title": "Score, change from baseline", "titleY": 115, "titlePadding": 8}},
                "color": {"field": "arm", "type": "nominal", "scale": {"domain": ["NALIRIFOX", "Gem + NabP"], "range": ["#a51d23", "#0c2d5e"]}, "legend": null}}}
            ]},
            {"width": 247, "height": 99, "transform": [{"filter": "datum.scale === 'Emotional'"}], "resolve": {"axis": {"y": "independent"}}, "layer": [
              {"mark": "rule", "encoding": {"y": {"datum": 0, "type": "quantitative", "scale": {"domain": [-5, 15]}, "axis": {"orient": "right", "values": [15, -5], "title": "Emotional"}}}},
              {"mark": "line", "encoding": {
                "x": {"field": "week", "type": "quantitative", "scale": {"domain": [2.5, 61.5], "nice": false}, "axis": null},
                "y": {"field": "score", "type": "quantitative", "scale": {"domain": [-5, 15]}, "axis": {"orient": "left", "values": [15, 0, -5], "title": null}},
                "color": {"field": "arm", "type": "nominal", "scale": {"domain": ["NALIRIFOX", "Gem + NabP"], "range": ["#a51d23", "#0c2d5e"]}, "legend": null}}}
            ]},
            {"width": 247, "height": 123, "transform": [{"filter": "datum.scale === 'Cognitive'"}], "resolve": {"axis": {"y": "independent"}}, "layer": [
              {"mark": "rule", "encoding": {"y": {"datum": 0, "type": "quantitative", "scale": {"domain": [-20, 5]}, "axis": {"orient": "right", "values": [5, -20], "title": "Cognitive"}}}},
              {"mark": "line", "encoding": {
                "x": {"field": "week", "type": "quantitative", "scale": {"domain": [2.5, 61.5], "nice": false}, "axis": null},
                "y": {"field": "score", "type": "quantitative", "scale": {"domain": [-20, 5]}, "axis": {"orient": "left", "values": [5, 0, -20], "title": null}},
                "color": {"field": "arm", "type": "nominal", "scale": {"domain": ["NALIRIFOX", "Gem + NabP"], "range": ["#a51d23", "#0c2d5e"]}, "legend": null}}}
            ]},
            {"width": 247, "height": 99, "transform": [{"filter": "datum.scale === 'Social'"}], "resolve": {"axis": {"y": "independent"}}, "layer": [
              {"mark": "rule", "encoding": {"y": {"datum": 0, "type": "quantitative", "scale": {"domain": [-15, 5]}, "axis": {"orient": "right", "values": [5, -15], "title": "Social"}}}},
              {"mark": "line", "encoding": {
                "x": {"field": "week", "type": "quantitative", "scale": {"domain": [2.5, 61.5], "nice": false}, "axis": {"values": [4, 12, 20, 28, 36, 44, 52, 60], "offset": 4, "title": "Weekᶜ", "titleX": -62, "titleY": 10, "titleAlign": "left", "titleBaseline": "top"}},
                "y": {"field": "score", "type": "quantitative", "scale": {"domain": [-15, 5]}, "axis": {"orient": "left", "values": [5, 0, -15], "title": null}},
                "color": {"field": "arm", "type": "nominal", "scale": {"domain": ["NALIRIFOX", "Gem + NabP"], "range": ["#a51d23", "#0c2d5e"]}, "legend": null}}}
            ]}
          ]
        },
        {
          "width": 247, "height": 24,
          "data": {"name": "counts"},
          "title": {"text": "No. of patients with data:", "anchor": "start", "frame": "bounds", "fontSize": 10, "fontWeight": "normal", "color": "#333333", "offset": 5},
          "mark": {"type": "text", "fontSize": 10},
          "encoding": {
            "x": {"field": "week", "type": "quantitative", "scale": {"domain": [2.5, 61.5], "nice": false}, "axis": null},
            "y": {"field": "arm", "type": "nominal", "sort": ["NALIRIFOX", "Gem + NabP"], "axis": {"title": null, "domain": false, "ticks": false, "tickSize": 0, "grid": false, "labelAlign": "left", "labelPadding": 62, "labelFontSize": 10, "labelColor": {"condition": {"test": "datum.value === 'NALIRIFOX'", "value": "#bf3a30"}, "value": "#1f3d7a"}}},
            "text": {"field": "n", "type": "quantitative"},
            "color": {"condition": {"test": "datum.arm === 'NALIRIFOX'", "value": "#bf3a30"}, "value": "#1f3d7a"}
          }
        }
      ]
    },
    {
      "data": {"values": [{}]},
      "spacing": 0,
      "bounds": "flush",
      "vconcat": [
        {"width": 1, "height": 109.5, "mark": {"type": "point", "opacity": 0}},
        {"width": 1, "height": 713,
          "mark": {"type": "point", "shape": "M 0 -1 L 1 0 L 0 1", "filled": false, "stroke": "#222222", "strokeWidth": 1.2, "size": 40},
          "encoding": {"y": {"datum": 0.5, "type": "quantitative", "scale": {"domain": [0, 1]}, "axis": {"orient": "right", "values": [0, 1], "offset": 0, "domainColor": "#222222", "tickColor": "#222222", "title": "Functional scale", "titleFontWeight": "bold", "titleColor": "#222222", "titlePadding": 4}}}
        }
      ]
    },
    {
      "spacing": 7,
      "vconcat": [
        {
          "data": {"name": "scores"},
          "spacing": 26.5,
          "bounds": "flush",
          "title": {"text": "Symptoms scale", "orient": "right", "anchor": "middle", "angle": 270, "baseline": "top", "offset": -6, "fontSize": 10, "fontWeight": "bold", "color": "#222222"},
          "vconcat": [
            {"width": 247, "height": 60, "transform": [{"filter": "datum.scale === 'Fatigue'"}], "resolve": {"axis": {"y": "independent"}}, "layer": [
              {"mark": "rule", "encoding": {"y": {"datum": 0, "type": "quantitative", "scale": {"domain": [-5, 15]}, "axis": {"orient": "right", "values": [15, -5], "title": "Fatigue", "titlePadding": 4}}}},
              {"mark": "line", "encoding": {
                "x": {"field": "week", "type": "quantitative", "scale": {"domain": [2.5, 61.5], "nice": false}, "axis": null},
                "y": {"field": "score", "type": "quantitative", "scale": {"domain": [-5, 15]}, "axis": {"orient": "left", "values": [15, 0, -5], "title": null}},
                "color": {"field": "arm", "type": "nominal", "scale": {"domain": ["NALIRIFOX", "Gem + NabP"], "range": ["#a51d23", "#0c2d5e"]}, "legend": null}}}
            ]},
            {"width": 247, "height": 60, "transform": [{"filter": "datum.scale === 'Pain'"}], "resolve": {"axis": {"y": "independent"}}, "layer": [
              {"mark": "rule", "encoding": {"y": {"datum": 0, "type": "quantitative", "scale": {"domain": [-15, 5]}, "axis": {"orient": "right", "values": [5, -15], "title": "Pain", "titlePadding": 4}}}},
              {"mark": "line", "encoding": {
                "x": {"field": "week", "type": "quantitative", "scale": {"domain": [2.5, 61.5], "nice": false}, "axis": null},
                "y": {"field": "score", "type": "quantitative", "scale": {"domain": [-15, 5]}, "axis": {"orient": "left", "values": [5, 0, -15], "title": null}},
                "color": {"field": "arm", "type": "nominal", "scale": {"domain": ["NALIRIFOX", "Gem + NabP"], "range": ["#a51d23", "#0c2d5e"]}, "legend": null}}}
            ]},
            {"width": 247, "height": 60, "transform": [{"filter": "datum.scale === 'Dyspnea'"}], "resolve": {"axis": {"y": "independent"}}, "layer": [
              {"mark": "rule", "encoding": {"y": {"datum": 0, "type": "quantitative", "scale": {"domain": [0, 20]}, "axis": {"orient": "right", "values": [20, 0], "title": "Dyspnea", "titlePadding": 4}}}},
              {"mark": "line", "encoding": {
                "x": {"field": "week", "type": "quantitative", "scale": {"domain": [2.5, 61.5], "nice": false}, "axis": null},
                "y": {"field": "score", "type": "quantitative", "scale": {"domain": [0, 20]}, "axis": {"orient": "left", "values": [20, 0], "title": null}},
                "color": {"field": "arm", "type": "nominal", "scale": {"domain": ["NALIRIFOX", "Gem + NabP"], "range": ["#a51d23", "#0c2d5e"]}, "legend": null}}}
            ]},
            {"width": 247, "height": 60, "transform": [{"filter": "datum.scale === 'Insomnia'"}], "resolve": {"axis": {"y": "independent"}}, "layer": [
              {"mark": "rule", "encoding": {"y": {"datum": 0, "type": "quantitative", "scale": {"domain": [-20, 0]}, "axis": {"orient": "right", "values": [0, -20], "title": "Insomnia", "titlePadding": 4}}}},
              {"mark": "line", "encoding": {
                "x": {"field": "week", "type": "quantitative", "scale": {"domain": [2.5, 61.5], "nice": false}, "axis": null},
                "y": {"field": "score", "type": "quantitative", "scale": {"domain": [-20, 0]}, "axis": {"orient": "left", "values": [0, -20], "title": null}},
                "color": {"field": "arm", "type": "nominal", "scale": {"domain": ["NALIRIFOX", "Gem + NabP"], "range": ["#a51d23", "#0c2d5e"]}, "legend": null}}}
            ]},
            {"width": 247, "height": 103, "transform": [{"filter": "datum.scale === 'Appetite loss'"}], "resolve": {"axis": {"y": "independent"}}, "layer": [
              {"mark": "rule", "encoding": {"y": {"datum": 0, "type": "quantitative", "scale": {"domain": [-20, 15]}, "axis": {"orient": "right", "values": [15, -20], "title": "Appetite loss", "titlePadding": 4}}}},
              {"mark": "line", "encoding": {
                "x": {"field": "week", "type": "quantitative", "scale": {"domain": [2.5, 61.5], "nice": false}, "axis": null},
                "y": {"field": "score", "type": "quantitative", "scale": {"domain": [-20, 15]}, "axis": {"orient": "left", "values": [15, 0, -20], "title": "Score, change from baseline", "titleY": 39, "titlePadding": 7}},
                "color": {"field": "arm", "type": "nominal", "scale": {"domain": ["NALIRIFOX", "Gem + NabP"], "range": ["#a51d23", "#0c2d5e"]}, "legend": null}}}
            ]},
            {"width": 247, "height": 60, "transform": [{"filter": "datum.scale === 'Constipation'"}], "resolve": {"axis": {"y": "independent"}}, "layer": [
              {"mark": "rule", "encoding": {"y": {"datum": 0, "type": "quantitative", "scale": {"domain": [-20, 0]}, "axis": {"orient": "right", "values": [0, -20], "title": "Constipation", "titlePadding": 4}}}},
              {"mark": "line", "encoding": {
                "x": {"field": "week", "type": "quantitative", "scale": {"domain": [2.5, 61.5], "nice": false}, "axis": null},
                "y": {"field": "score", "type": "quantitative", "scale": {"domain": [-20, 0]}, "axis": {"orient": "left", "values": [0, -20], "title": null}},
                "color": {"field": "arm", "type": "nominal", "scale": {"domain": ["NALIRIFOX", "Gem + NabP"], "range": ["#a51d23", "#0c2d5e"]}, "legend": null}}}
            ]},
            {"width": 247, "height": 60, "transform": [{"filter": "datum.scale === 'Nausea and vomiting'"}], "resolve": {"axis": {"y": "independent"}}, "layer": [
              {"mark": "rule", "encoding": {"y": {"datum": 0, "type": "quantitative", "scale": {"domain": [-5, 15]}, "axis": {"orient": "right", "values": [15, -5], "title": ["Nausea and", "vomiting"], "titlePadding": 4}}}},
              {"mark": "line", "encoding": {
                "x": {"field": "week", "type": "quantitative", "scale": {"domain": [2.5, 61.5], "nice": false}, "axis": null},
                "y": {"field": "score", "type": "quantitative", "scale": {"domain": [-5, 15]}, "axis": {"orient": "left", "values": [15, 0, -5], "title": null}},
                "color": {"field": "arm", "type": "nominal", "scale": {"domain": ["NALIRIFOX", "Gem + NabP"], "range": ["#a51d23", "#0c2d5e"]}, "legend": null}}}
            ]},
            {"width": 247, "height": 87, "transform": [{"filter": "datum.scale === 'Diarrhea'"}], "resolve": {"axis": {"y": "independent"}}, "layer": [
              {"mark": "rule", "encoding": {"y": {"datum": 0, "type": "quantitative", "scale": {"domain": [0, 30]}, "axis": {"orient": "right", "values": [30, 0], "title": "Diarrhea", "titlePadding": 4}}}},
              {"mark": "line", "encoding": {
                "x": {"field": "week", "type": "quantitative", "scale": {"domain": [2.5, 61.5], "nice": false}, "axis": null},
                "y": {"field": "score", "type": "quantitative", "scale": {"domain": [0, 30]}, "axis": {"orient": "left", "values": [30, 0], "title": null}},
                "color": {"field": "arm", "type": "nominal", "scale": {"domain": ["NALIRIFOX", "Gem + NabP"], "range": ["#a51d23", "#0c2d5e"]}, "legend": null}}}
            ]},
            {"width": 247, "height": 60, "transform": [{"filter": "datum.scale === 'Financial difficulties'"}], "resolve": {"axis": {"y": "independent"}}, "layer": [
              {"mark": "rule", "encoding": {"y": {"datum": 0, "type": "quantitative", "scale": {"domain": [-5, 15]}, "axis": {"orient": "right", "values": [15, -5], "title": ["Financial", "difficulties"], "titlePadding": 4}}}},
              {"mark": "line", "encoding": {
                "x": {"field": "week", "type": "quantitative", "scale": {"domain": [2.5, 61.5], "nice": false}, "axis": {"values": [4, 12, 20, 28, 36, 44, 52, 60], "offset": 4, "title": "Weekᶜ", "titleX": -59, "titleY": 10, "titleAlign": "left", "titleBaseline": "top"}},
                "y": {"field": "score", "type": "quantitative", "scale": {"domain": [-5, 15]}, "axis": {"orient": "left", "values": [15, 0, -5], "title": null}},
                "color": {"field": "arm", "type": "nominal", "scale": {"domain": ["NALIRIFOX", "Gem + NabP"], "range": ["#a51d23", "#0c2d5e"]}, "legend": null}}}
            ]}
          ]
        },
        {
          "width": 247, "height": 24,
          "data": {"name": "counts"},
          "title": {"text": "No. of patients with data:", "anchor": "start", "frame": "bounds", "fontSize": 10, "fontWeight": "normal", "color": "#333333", "offset": 5},
          "mark": {"type": "text", "fontSize": 10},
          "encoding": {
            "x": {"field": "week", "type": "quantitative", "scale": {"domain": [2.5, 61.5], "nice": false}, "axis": null},
            "y": {"field": "arm", "type": "nominal", "sort": ["NALIRIFOX", "Gem + NabP"], "axis": {"title": null, "domain": false, "ticks": false, "tickSize": 0, "grid": false, "labelAlign": "left", "labelPadding": 59, "labelFontSize": 10, "labelColor": {"condition": {"test": "datum.value === 'NALIRIFOX'", "value": "#bf3a30"}, "value": "#1f3d7a"}}},
            "text": {"field": "n", "type": "quantitative"},
            "color": {"condition": {"test": "datum.arm === 'NALIRIFOX'", "value": "#bf3a30"}, "value": "#1f3d7a"}
          }
        }
      ]
    }
  ]
}
